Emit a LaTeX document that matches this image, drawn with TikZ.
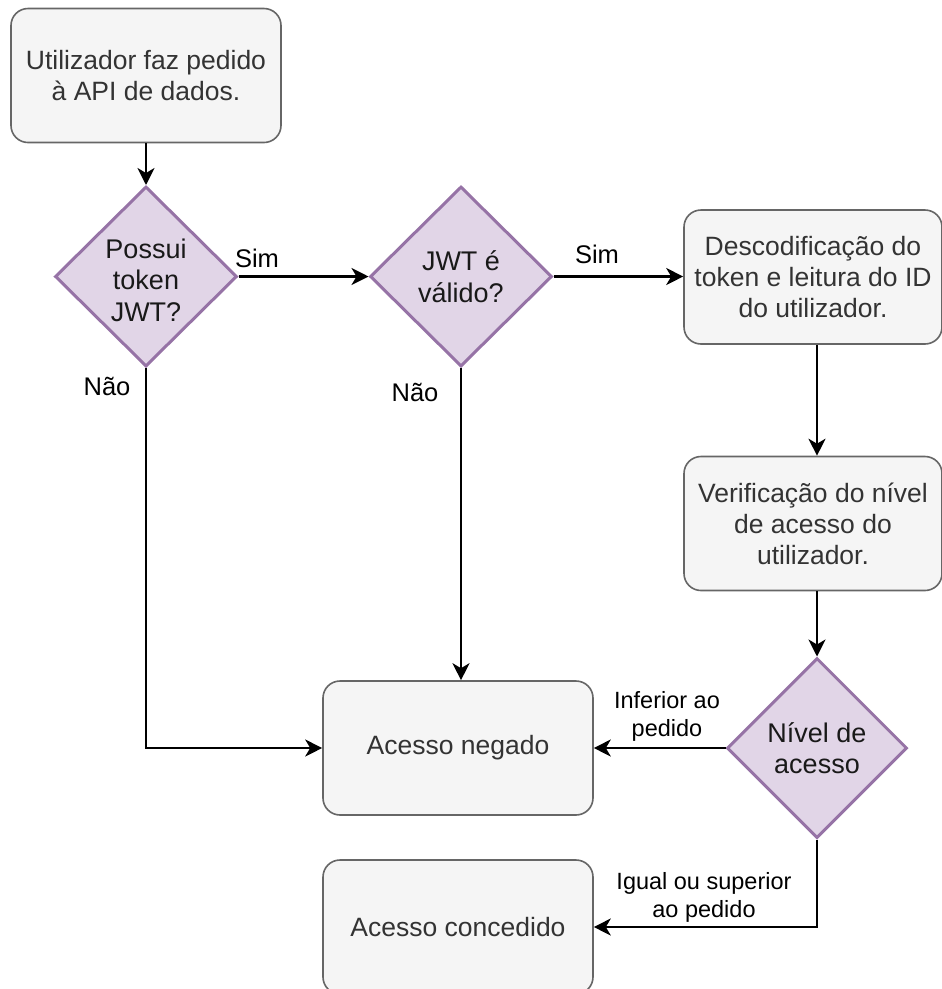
\documentclass[tikz,border=0pt]{standalone}
\usepackage{fontspec}
\setmainfont{Liberation Sans}
\usetikzlibrary{shapes.geometric,arrows.meta}
\definecolor{boxfill}{HTML}{F5F5F5}
\definecolor{boxline}{HTML}{666666}
\definecolor{boxtext}{HTML}{333333}
\definecolor{decfill}{HTML}{E1D5E7}
\definecolor{decline}{HTML}{9673A6}

\begin{document}
\begin{tikzpicture}[x=1pt,y=-1pt,
  stepbox/.style={draw=boxline, fill=boxfill, line width=1.6pt, rounded corners=17pt,
    minimum width=270pt, minimum height=134pt, align=center, text=boxtext,
    font=\fontsize{26.5}{31}\selectfont, inner sep=0pt},
  decision/.style={shape=diamond, draw=decline, fill=decfill, line width=3pt,
    minimum width=182pt, minimum height=180pt, inner sep=0pt, aspect=1},
  dectext/.style={align=center, text=black!90, font=\fontsize{27}{31.5}\selectfont, inner sep=0pt},
  lbl/.style={font=\fontsize{25.5}{30}\selectfont, text=black, inner sep=0pt},
  smalllbl/.style={align=center, font=\fontsize{23.5}{28}\selectfont, text=black, inner sep=0pt},
  arr/.style={draw=black, line width=2.2pt, -{Stealth[length=17pt,width=17pt,inset=5pt]}}
]
\useasboundingbox (0,0) rectangle (942,989);
\fill[white] (0,0) rectangle (942,989);

% process steps
\node[stepbox] (b1) at (146,75.5) {Utilizador faz pedido\\à API de dados.};
\node[stepbox, minimum width=258pt] (b2) at (813,277) {Descodificação do\\token e leitura do ID\\do utilizador.};
\node[stepbox, minimum width=258pt] (b3) at (813,523.5) {Verificação do nível\\de acesso do\\utilizador.};
\node[stepbox] (b4) at (458,748) {Acesso negado};
\node[stepbox] (b5) at (458,927) {Acesso concedido};

% decisions
\node[decision] (d1) at (146,276.5) {};
\node[dectext] (d1t) at (146,280) {Possui\\token\\JWT?};
\node[decision] (d2) at (461,276.5) {};
\node[dectext] (d2t) at (d2) {JWT é\\válido?};
\node[decision, minimum width=180pt] (d3) at (817,748) {};
\node[dectext] (d3t) at (d3) {Nível de\\acesso};

% branch labels
\node[lbl] (s1) at (257,258) {Sim};
\node[lbl] (s2) at (597,254) {Sim};
\node[lbl] (n1) at (107,386) {Não};
\node[lbl] (n2) at (415,392) {Não};
\node[smalllbl] (inf) at (667,716) {Inferior ao\\pedido};
\node[smalllbl] (sup) at (704,897) {Igual ou superior\\ao pedido};

% connectors
\draw[arr] (b1) -- (d1);
\draw[arr] (d1) -- (d2);
\draw[arr] (d2.east) -- (d2.east -| b2.west);
\draw[arr] (d1.south) |- (b4.west);
\draw[arr] (d2.south) -- (d2.south |- b4.north);
\draw[arr] (b2.south -| d3) -- (b3.north -| d3);
\draw[arr] (b3.south -| d3) -- (d3.north);
\draw[arr] (d3.west) -- (b4.east);
\draw[arr] (d3.south) |- (b5.east);
\end{tikzpicture}
\end{document}
